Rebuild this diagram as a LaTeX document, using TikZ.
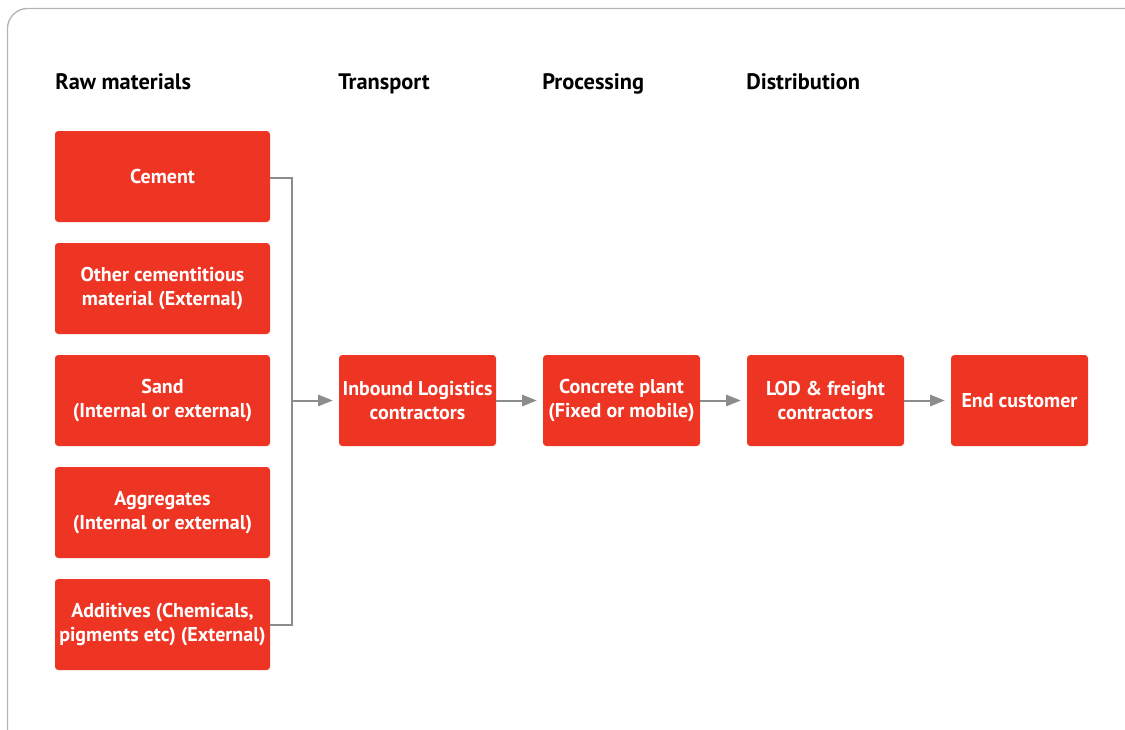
\documentclass[tikz,border=0pt]{standalone}
\usepackage{fontspec}
\setmainfont{PT Sans}
\usetikzlibrary{arrows.meta}
\definecolor{boxred}{HTML}{EE3524}
\definecolor{linegray}{HTML}{8A8C8E}
\definecolor{framegray}{HTML}{B4B4B4}
\tikzset{
  stage/.style={fill=boxred, rounded corners=2.5pt, text=white, font=\bfseries\fontsize{15}{18}\selectfont,
    align=center, inner sep=0pt, minimum height=68.25pt},
  rawbox/.style={stage, minimum width=161.25pt},
  flowbox/.style={stage, minimum width=117.75pt},
  heading/.style={anchor=base west, inner sep=0pt, font=\bfseries\fontsize{16.8}{18}\selectfont},
  feed/.style={draw=linegray, line width=1.5pt},
  flow/.style={feed, -{Triangle[length=11pt, width=8.5pt]}, shorten >=4.5pt}
}

\begin{document}
\begin{tikzpicture}[x=0.75pt, y=-0.75pt]
        \useasboundingbox (0,0) rectangle (1125,729);
        % frame, cut by the page
        \begin{scope}
          \clip (0,0) rectangle (1125,729);
          \draw[framegray, line width=1pt, rounded corners=15pt] (7.5,8.5) rectangle (1180,780);
        \end{scope}
        % headings
        \node[heading] (hraw) at (55,89) {Raw materials};
        \node[heading] (htrans) at (338,89) {Transport};
        \node[heading] (hproc) at (542,89) {Processing};
        \node[heading] (hdist) at (746,89) {Distribution};
        % raw materials
        \node[rawbox] (cement) at (162.5,176.5) {Cement};
        \node[rawbox] (other) at (162.5,288.5) {Other cementitious\\material (External)};
        \node[rawbox] (sand) at (162.5,400.5) {Sand\\(Internal or external)};
        \node[rawbox] (aggr) at (162.5,512.5) {Aggregates\\(Internal or external)};
        \node[rawbox] (addit) at (162.5,624.5) {Additives (Chemicals,\\pigments etc) (External)};
        % chain
        \node[flowbox] (inbound) at (417.5,400.5) {Inbound Logistics\\contractors};
        \node[flowbox] (plant) at (621.5,400.5) {Concrete plant\\(Fixed or mobile)};
        \node[flowbox] (lod) at (825.5,400.5) {LOD \& freight\\contractors};
        \node[stage, minimum width=102.75pt] (endc) at (1019.5,400.5) {End customer};
        % connectors
        \coordinate (bustop) at (292,177.5);
        \coordinate (busbot) at (292,624.5);
        \coordinate (bus) at (292,400.5);
        \draw[feed] (cement.east |- bustop) -- (bustop) -- (busbot) -- (addit.east);
        \draw[flow] (bus) -- (inbound.west);
        \draw[flow] (inbound) -- (plant);
        \draw[flow] (plant) -- (lod);
        \draw[flow] (lod) -- (endc);
\end{tikzpicture}
\end{document}
